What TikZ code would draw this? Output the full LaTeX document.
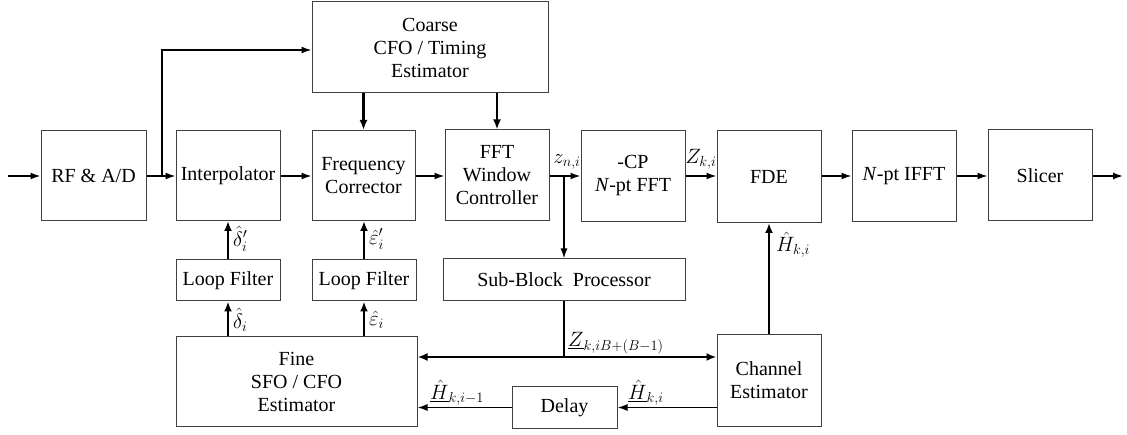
\documentclass[tikz,border=0pt]{standalone}
\usepackage{fontspec}
\IfFontExistsTF{LiberationSerif-Regular.ttf}{%
  \setmainfont{LiberationSerif}[Extension=.ttf,UprightFont=*-Regular,ItalicFont=*-Italic,BoldFont=*-Bold]}{%
  \setmainfont{Latin Modern Roman}}
\usetikzlibrary{arrows.meta,calc}
\begin{document}
\begin{tikzpicture}[x=1pt,y=-1pt,
  font=\rmfamily\fontsize{20}{23}\selectfont,
  blk/.style={draw=black!75,line width=1pt,inner sep=0pt,align=center,anchor=center},
  conn/.style={line width=1.6pt,-{Latex[length=10pt,width=7pt]}},
  bold/.style={line width=2.2pt,-{Latex[length=10pt,width=8pt]}},
  lbl/.style={inner sep=0pt}]
\useasboundingbox (0,0) rectangle (1127,435);
% main chain
\node[blk,minimum width=105pt,minimum height=90pt] (rf) at (93.5,175.5) {RF \& A/D};
\node[blk,minimum width=104pt,minimum height=90pt] (interp) at (228,175.5) {Interpolator};
\node[blk,minimum width=103pt,minimum height=90pt] (fc) at (363.5,175.5) {Frequency\\Corrector};
\node[blk,minimum width=104pt,minimum height=91pt] (fft) at (497,175.5) {FFT\\Window\\Controller};
\node[blk,minimum width=104pt,minimum height=91pt] (cp) at (633,176) {-CP\\\textit{N}-pt FFT};
\node[blk,minimum width=104pt,minimum height=92pt] (fde) at (769,176.5) {FDE};
\node[blk,minimum width=104pt,minimum height=91pt] (ifft) at (904,176) {\textit{N}-pt IFFT};
\node[blk,minimum width=104pt,minimum height=91pt] (slicer) at (1040,175.5) {Slicer};
% upper and lower blocks
\node[blk,minimum width=236pt,minimum height=91pt] (coarse) at (430,47.5) {Coarse\\CFO / Timing\\Estimator};
\node[blk,minimum width=104pt,minimum height=41pt] (lf1) at (228,280.5) {Loop Filter};
\node[blk,minimum width=104pt,minimum height=41pt] (lf2) at (364,280.5) {Loop Filter};
\node[blk,minimum width=242pt,minimum height=42pt] (sbp) at (564,280) {Sub-Block\ \ Processor};
\node[blk,minimum width=241pt,minimum height=89pt] (fine) at (296.5,381.5) {Fine\\SFO / CFO\\Estimator};
\node[blk,minimum width=104pt,minimum height=91pt] (chan) at (769,380.5) {Channel\\Estimator};
\node[blk,minimum width=105pt,minimum height=41pt] (delay) at (564.5,407.5) {Delay};
% coordinates
\coordinate (in) at (8,176);
\coordinate (out) at (1123,176);
\coordinate (br) at (162,176);
\coordinate (zj) at (564,176);
\coordinate (bus) at (564,357);
% connectors main chain
\draw[conn] (in) -- (in -| rf.west);
\draw[conn] (br -| rf.east) -- (br -| interp.west);
\draw[conn] (br) -- (162,50) -- (coarse.west |- 0,50);
\draw[conn] (br -| interp.east) -- (br -| fc.west);
\draw[conn] (br -| fc.east) -- (br -| fft.west);
\draw[conn] (zj -| fft.east) -- (zj -| cp.west);
\draw[conn] (zj -| cp.east) -- (zj -| fde.west);
\draw[conn] (zj -| fde.east) -- (zj -| ifft.west);
\draw[conn] (zj -| ifft.east) -- (zj -| slicer.west);
\draw[conn] (zj -| slicer.east) -- (out);
% coarse outputs
\draw[bold] (coarse.south -| fc.north) -- (fc.north);
\draw[bold] (coarse.south -| fft.north) -- (fft.north);
% loop filters
\draw[bold] (lf1.north) -- (lf1.north |- interp.south);
\draw[bold] (lf2.north) -- (lf2.north |- fc.south);
\draw[bold] (lf1.south |- fine.north) -- (lf1.south);
\draw[bold] (lf2.south |- fine.north) -- (lf2.south);
% sub-block path
\draw[conn] (zj) -- (sbp.north);
\draw[line width=1.6pt] (sbp.south) -- (bus);
\draw[bold] (bus) -- (bus -| fine.east);
\draw[bold] (bus) -- (bus -| chan.west);
\draw[bold] (chan.north) -- (fde.south);
\draw[conn] (chan.west |- delay.east) -- (delay.east);
\draw[conn] (delay.west) -- (delay.west -| fine.east);
% labels
\node[lbl,anchor=south] (lz) at (567,170) {$z_{n,i}$};
\node[lbl,anchor=south] (lZ) at (701,170) {$Z_{k,i}$};
\node[lbl,anchor=west] (ld1) at (233,239) {$\hat{\delta}'_i$};
\node[lbl,anchor=west] (le1) at (369,239) {$\hat{\varepsilon}'_i$};
\node[lbl,anchor=west] (ld0) at (233,320) {$\hat{\delta}_i$};
\node[lbl,anchor=west] (le0) at (369,320) {$\hat{\varepsilon}_i$};
\node[lbl,anchor=west] (lH) at (776,245) {$\hat{H}_{k,i}$};
\node[lbl,anchor=south west] (lbus) at (568,354) {$\underline{Z}_{k,iB+(B-1)}$};
\node[lbl,anchor=south west] (lHd) at (628,406) {$\underline{\hat{H}}_{k,i}$};
\node[lbl,anchor=south west] (lHd1) at (430,406) {$\underline{\hat{H}}_{k,i-1}$};
\end{tikzpicture}
\end{document}
